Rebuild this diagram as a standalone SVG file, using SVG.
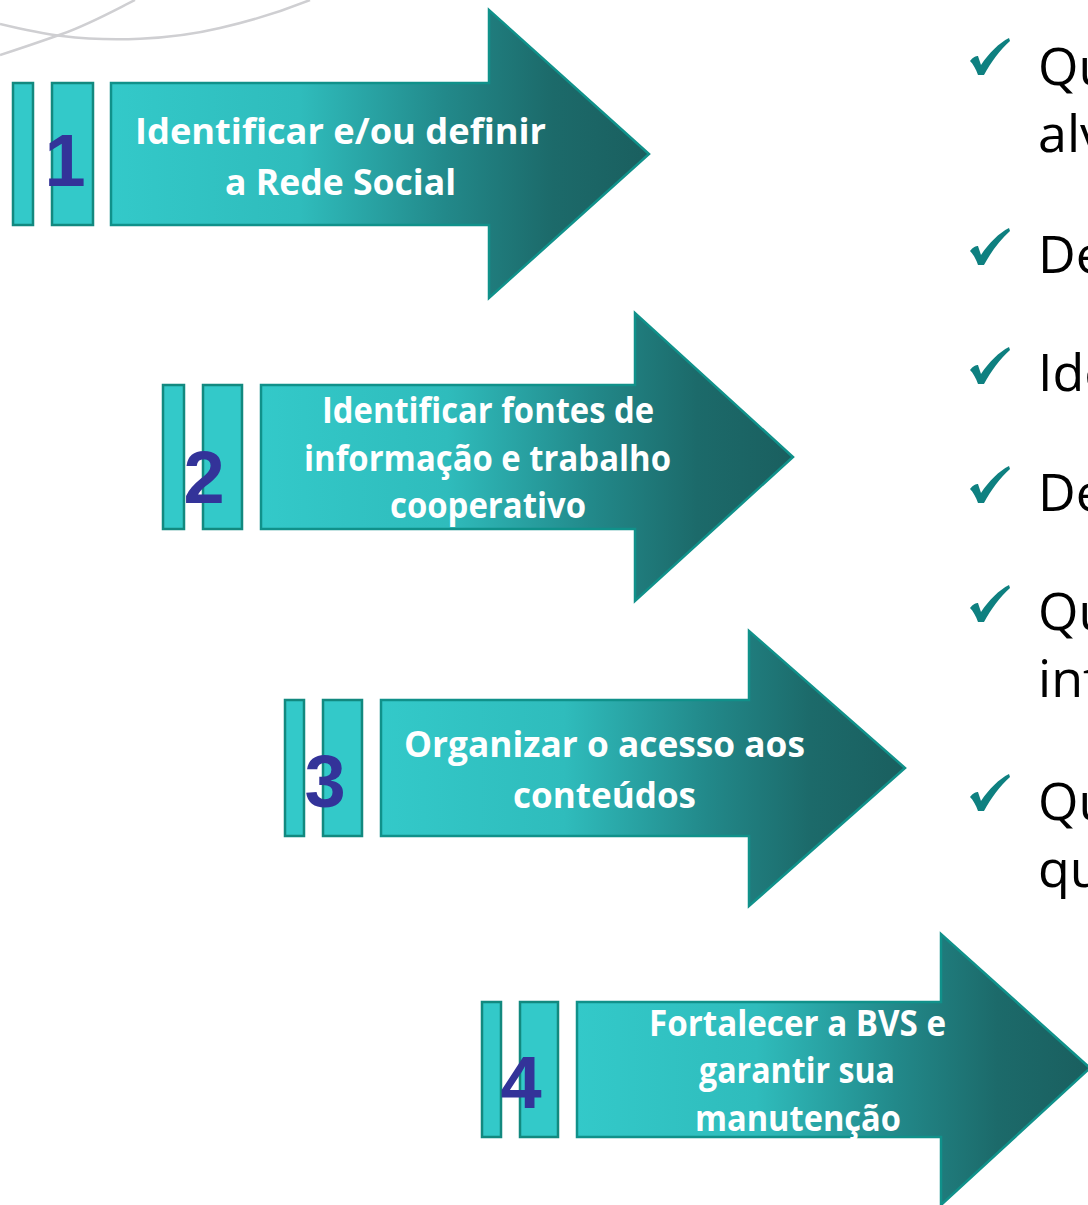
<svg xmlns="http://www.w3.org/2000/svg" width="1088" height="1205" viewBox="0 0 1088 1205">
<defs>
<linearGradient id="g" x1="0" y1="0" x2="1" y2="0">
<stop offset="0" stop-color="#33c9c9"/>
<stop offset="0.35" stop-color="#2fbcbc"/>
<stop offset="0.62" stop-color="#22898a"/>
<stop offset="0.82" stop-color="#1c6a6a"/>
<stop offset="1" stop-color="#1a5f5f"/>
</linearGradient>
<path id="chk" d="M0,23 C3,19 6,18 8,18 L11,27 C19,15 29,5 39,0 L40,3 C30,12 21,24 14,37 L8,37 C6,31 3,26 0,23 Z"/>
</defs>
<style>
.bar{fill:#33c9c9;stroke:#12897f;stroke-width:2.5}
.arr{fill:url(#g);stroke:#10918a;stroke-width:2.5}
.num{font-family:"Liberation Sans",Arial,sans-serif;font-weight:bold;font-size:74px;fill:#333399;text-anchor:middle}
.lbl{font-family:"Open Sans","Liberation Sans",sans-serif;font-weight:bold;font-size:35px;fill:#ffffff;text-anchor:middle}
.bul{font-family:"Open Sans","Liberation Sans",sans-serif;font-size:52px;fill:#000000}
.ck{fill:#0e8080}
.sw{fill:none;stroke:#cfcfd2;stroke-width:2.5}
</style>
<rect width="1088" height="1205" fill="#ffffff"/>
<g id="background">
<path class="sw" d="M0,24 C25,30 45,34 62,36 C110,42 170,40 220,28 C255,20 285,10 310,0"/>
<path class="sw" d="M0,55 C25,47 45,40 62,34 C90,24 115,10 135,0"/>
</g>
<g id="step1">
<rect class="bar" x="13" y="83" width="20" height="142"/>
<rect class="bar" x="52" y="83" width="41" height="142"/>
<path class="arr" d="M111,83 H489 V10 L649,154 L489,298 V225 H111 Z"/>
<text class="num" x="65" y="186">1</text>
<text class="lbl" x="340.5" y="144" textLength="411" lengthAdjust="spacingAndGlyphs">Identificar e/ou  definir</text>
<text class="lbl" x="340.5" y="195" textLength="231" lengthAdjust="spacingAndGlyphs">a Rede Social</text>
</g>
<g id="step2">
<rect class="bar" x="163" y="385" width="21" height="144"/>
<rect class="bar" x="203" y="385" width="39" height="144"/>
<path class="arr" d="M261,385 H635 V313 L793,457 L635,601 V529 H261 Z"/>
<text class="num" x="204" y="503">2</text>
<text class="lbl" x="488" y="423" textLength="332" lengthAdjust="spacingAndGlyphs">Identificar fontes de</text>
<text class="lbl" x="487.5" y="471" textLength="367" lengthAdjust="spacingAndGlyphs">informação e trabalho</text>
<text class="lbl" x="488" y="518" textLength="196" lengthAdjust="spacingAndGlyphs">cooperativo</text>
</g>
<g id="step3">
<rect class="bar" x="285" y="700" width="19" height="136"/>
<rect class="bar" x="323" y="700" width="39" height="136"/>
<path class="arr" d="M381,700 H749 V631 L905,768 L749,906 V836 H381 Z"/>
<text class="num" x="325" y="807">3</text>
<text class="lbl" x="604.5" y="757" textLength="401" lengthAdjust="spacingAndGlyphs">Organizar o acesso aos</text>
<text class="lbl" x="604.5" y="808" textLength="183" lengthAdjust="spacingAndGlyphs">conteúdos</text>
</g>
<g id="step4">
<rect class="bar" x="482" y="1002" width="19" height="135"/>
<rect class="bar" x="520" y="1002" width="38" height="135"/>
<path class="arr" d="M577,1002 H941 V934 L1090,1068 L941,1205 V1137 H577 Z"/>
<text class="num" x="521" y="1108">4</text>
<text class="lbl" x="797.5" y="1036" textLength="297" lengthAdjust="spacingAndGlyphs">Fortalecer a BVS e</text>
<text class="lbl" x="797" y="1083" textLength="196" lengthAdjust="spacingAndGlyphs">garantir sua</text>
<text class="lbl" x="798" y="1131" textLength="206" lengthAdjust="spacingAndGlyphs">manutenção</text>
</g>
<g id="bullets">
<use href="#chk" class="ck" x="970" y="38"/>
<use href="#chk" class="ck" x="970" y="228"/>
<use href="#chk" class="ck" x="970" y="347"/>
<use href="#chk" class="ck" x="970" y="466"/>
<use href="#chk" class="ck" x="970" y="585"/>
<use href="#chk" class="ck" x="970" y="774"/>
<text class="bul" x="1038" y="85">Qu</text>
<text class="bul" x="1038" y="152">alv</text>
<text class="bul" x="1038" y="273">De</text>
<text class="bul" x="1038" y="391">Ide</text>
<text class="bul" x="1038" y="511">De</text>
<text class="bul" x="1038" y="630">Qu</text>
<text class="bul" x="1038" y="697">inf</text>
<text class="bul" x="1038" y="820">Qu</text>
<text class="bul" x="1038" y="887">qu</text>
</g>
</svg>
